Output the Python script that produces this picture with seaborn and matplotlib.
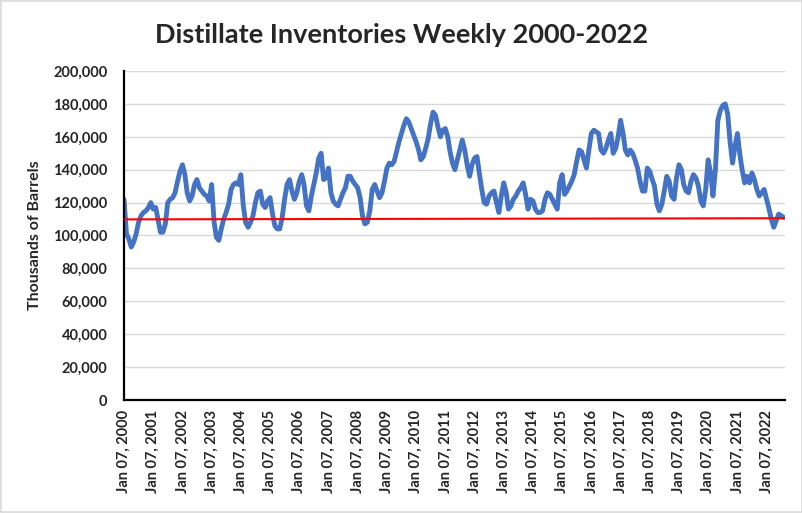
import matplotlib
matplotlib.use("Agg")
import matplotlib.pyplot as plt
import matplotlib.patches as patches
from matplotlib.ticker import FuncFormatter
import numpy as np
import pandas as pd
import seaborn as sns

# ---------------- data (thousand barrels, monthly readings) ----------------
start_date = "2000-01-07"
inv_2000 = [122, 101, 98, 93, 96, 101, 108, 112, 114, 115, 117, 120]
inv_2001 = [116, 117, 110, 102, 102, 107, 120, 122, 123, 126, 133, 139]
inv_2002 = [143, 137, 126, 121, 124, 131, 134, 129, 127, 125, 124, 121]
inv_2003 = [131, 108, 99, 97, 104, 110, 114, 119, 128, 131, 132, 131]
inv_2004 = [137, 118, 108, 105, 108, 112, 120, 126, 127, 119, 117, 121]
inv_2005 = [123, 113, 106, 104, 104, 111, 122, 131, 134, 127, 122, 126]
inv_2006 = [133, 137, 131, 118, 115, 124, 131, 138, 147, 150, 134, 135]
inv_2007 = [141, 126, 121, 119, 118, 122, 126, 129, 136, 136, 133, 131]
inv_2008 = [129, 123, 112, 107, 108, 115, 128, 131, 127, 123, 126, 133]
inv_2009 = [141, 144, 143, 145, 151, 157, 162, 167, 171, 169, 165, 161]
inv_2010 = [157, 152, 146, 148, 153, 159, 168, 175, 173, 166, 160, 164]
inv_2011 = [165, 160, 151, 144, 140, 146, 152, 158, 152, 143, 136, 143]
inv_2012 = [147, 148, 138, 128, 120, 119, 124, 126, 127, 120, 114, 124]
inv_2013 = [132, 126, 116, 118, 122, 124, 127, 129, 132, 125, 116, 122]
inv_2014 = [121, 116, 114, 114, 115, 122, 126, 125, 122, 119, 116, 132]
inv_2015 = [137, 125, 127, 130, 133, 137, 145, 152, 151, 146, 141, 152]
inv_2016 = [162, 164, 163, 162, 152, 150, 153, 158, 162, 150, 153, 160]
inv_2017 = [170, 162, 152, 149, 152, 150, 146, 141, 133, 127, 127, 141]
inv_2018 = [139, 134, 130, 119, 115, 119, 127, 136, 133, 124, 122, 135]
inv_2019 = [143, 140, 131, 127, 126, 133, 137, 135, 130, 121, 118, 128]
inv_2020 = [146, 138, 124, 140, 170, 176, 179, 180, 174, 157, 144, 154]
inv_2021 = [162, 149, 140, 132, 136, 132, 138, 134, 128, 124, 126, 128]
inv_2022 = [122, 116, 110, 105, 109, 113, 112, 111]

ref_level = [109800, 110500]  # red reference line, start and end values

y_ticks = [0, 20000, 40000, 60000, 80000, 100000, 120000, 140000, 160000, 180000, 200000]
title = "Distillate Inventories Weekly 2000-2022"
y_title = "Thousands of Barrels"

# ---------------- build frame ----------------
values = (inv_2000 + inv_2001 + inv_2002 + inv_2003 + inv_2004 + inv_2005 + inv_2006 +
          inv_2007 + inv_2008 + inv_2009 + inv_2010 + inv_2011 + inv_2012 + inv_2013 +
          inv_2014 + inv_2015 + inv_2016 + inv_2017 + inv_2018 + inv_2019 + inv_2020 +
          inv_2021 + inv_2022)
dates = pd.date_range(start_date, periods=len(values), freq=pd.DateOffset(months=1))
df = pd.DataFrame({"date": dates, "value": np.array(values) * 1000})

sns.set_theme(style="white")
plt.rcParams["font.family"] = ["Lato", "DejaVu Sans"]

fig = plt.figure(figsize=(8.03, 5.13), dpi=100)
ax = fig.add_axes([124 / 803, 1 - 400 / 513, (785 - 124) / 803, (400 - 71) / 513])

sns.lineplot(data=df, x="date", y="value", ax=ax, color="#4472C4", linewidth=3.5)
end_date = dates[-1] + pd.Timedelta(days=18)
ax.plot([dates[0], end_date], ref_level, color="#FF0000", linewidth=1.5, zorder=3)

ax.set_ylim(0, 200000)
ax.set_xlim(dates[0], end_date)
ax.set_yticks(y_ticks)
ax.yaxis.set_major_formatter(FuncFormatter(lambda v, p: f"{int(v):,}"))

year_ticks = [pd.Timestamp(y, 1, 7) for y in range(2000, 2023)]
ax.set_xticks(year_ticks)
ax.set_xticklabels([t.strftime("Jan %d, %Y") for t in year_ticks], rotation=90,
                   fontweight="bold", fontsize=10.5)
for lab in ax.get_yticklabels():
    lab.set_fontweight("bold")
    lab.set_fontsize(10.5)

ax.grid(axis="y", color="#D9D9D9", linewidth=1.0)
ax.set_axisbelow(True)
for s in ["top", "right"]:
    ax.spines[s].set_visible(False)
for s in ["left", "bottom"]:
    ax.spines[s].set_color("black")
    ax.spines[s].set_linewidth(1.6)
ax.tick_params(axis="both", direction="inout", length=8, width=1.6, color="black", pad=3)
ax.tick_params(axis="y", pad=8)

ax.set_xlabel("")
ax.set_ylabel(y_title, fontweight="bold", fontsize=11.5, labelpad=8)
fig.text(0.5, 1 - 35 / 513, title, ha="center", va="center", fontweight="bold", fontsize=19.5)

fig.patches.append(patches.Rectangle((0.001, 0.001), 0.998, 0.998, transform=fig.transFigure,
                                     fill=False, edgecolor="#D9D9D9", linewidth=1.2))

fig.savefig("out.png", dpi=100)
